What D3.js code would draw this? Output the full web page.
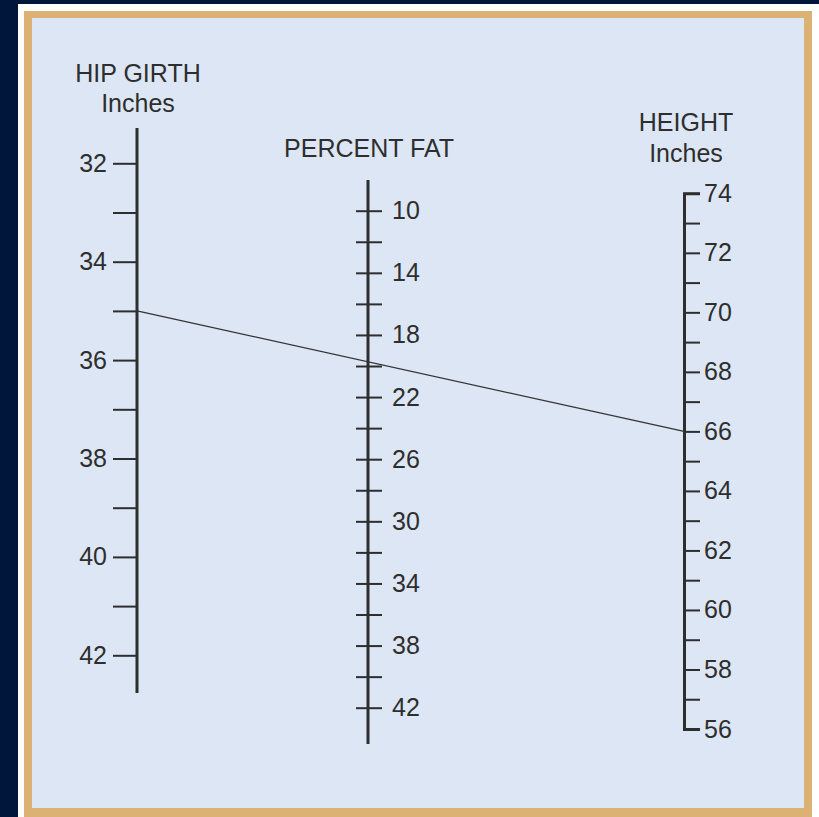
<!DOCTYPE html>
<html>
<head>
<meta charset="utf-8">
<script src="https://cdn.jsdelivr.net/npm/d3@7"></script>
<style>
  body { margin: 0; background: #00163b; }
  text { font-family: "Liberation Sans", Arial, sans-serif; }
</style>
</head>
<body>
<div id="container"></div>
<script>
// nomogram values
const hipTicks = [32, 33, 34, 35, 36, 37, 38, 39, 40, 41, 42];
const hipLabels = [32, 34, 36, 38, 40, 42];
const fatTicks = [10, 12, 14, 16, 18, 20, 22, 24, 26, 28, 30, 32, 34, 36, 38, 40, 42];
const fatLabels = [10, 14, 18, 22, 26, 30, 34, 38, 42];
const heightTicks = [56, 57, 58, 59, 60, 61, 62, 63, 64, 65, 66, 67, 68, 69, 70, 71, 72, 73, 74];
const heightLabels = [56, 58, 60, 62, 64, 66, 68, 70, 72, 74];
const exampleHip = 35;
const exampleHeight = 66;

const width = 819, height = 817;
const ink = "#2e2e2e";

const svg = d3.select("#container").append("svg")
  .attr("width", width)
  .attr("height", height);

// frame: navy, white, tan, light blue
svg.append("rect").attr("width", width).attr("height", height).attr("fill", "#00163b");
svg.append("rect").attr("x", 18).attr("y", 4).attr("width", width - 18).attr("height", height - 4).attr("fill", "#ffffff");
svg.append("rect").attr("x", 24).attr("y", 11).attr("width", 812 - 24).attr("height", height - 11).attr("fill", "#dcb274");
svg.append("rect").attr("x", 32).attr("y", 18).attr("width", 804 - 32).attr("height", 808 - 18).attr("fill", "#dde6f4");

// scales
const hipX = 137, fatX = 368, heightX = 684;
const hip = d3.scaleLinear().domain([32, 42]).range([163.3, 655.3]);
const fat = d3.scaleLinear().domain([10, 42]).range([210.7, 707.7]);
const ht = d3.scaleLinear().domain([56, 74]).range([729, 193.3]);

function styleAxis(g, w) {
  g.selectAll("line").attr("stroke", ink).attr("stroke-width", 2);
  g.selectAll("text").attr("fill", ink).style("font-size", "25px");
  g.select(".domain").attr("stroke", ink).attr("stroke-width", w).attr("fill", "none");
}

// HIP GIRTH
svg.append("line")
  .attr("x1", hipX).attr("x2", hipX)
  .attr("y1", 128).attr("y2", 693)
  .attr("stroke", ink).attr("stroke-width", 3);

svg.append("g")
  .attr("transform", `translate(${hipX},0)`)
  .call(d3.axisLeft(hip)
    .tickValues(hipTicks)
    .tickSize(24)
    .tickPadding(6)
    .tickFormat(d => hipLabels.includes(d) ? d : ""))
  .call(g => g.select(".domain").remove())
  .call(g => styleAxis(g, 3));

// PERCENT FAT
svg.append("line")
  .attr("x1", fatX).attr("x2", fatX)
  .attr("y1", 180).attr("y2", 744)
  .attr("stroke", ink).attr("stroke-width", 3);

svg.append("g")
  .attr("transform", `translate(${fatX},0)`)
  .call(d3.axisRight(fat)
    .tickValues(fatTicks)
    .tickSize(14)
    .tickPadding(10)
    .tickFormat(d => fatLabels.includes(d) ? d : ""))
  .call(g => g.select(".domain").remove())
  .call(g => g.selectAll(".tick line").attr("x1", -12)) // ticks cross the line
  .call(g => styleAxis(g, 3));

// HEIGHT
svg.append("g")
  .attr("transform", `translate(${heightX},0)`)
  .call(d3.axisRight(ht)
    .tickValues(heightTicks)
    .tickSize(16)
    .tickSizeOuter(16)
    .tickPadding(4)
    .tickFormat(d => heightLabels.includes(d) ? d : ""))
  .call(g => styleAxis(g, 3));

// example reading line
svg.append("line")
  .attr("x1", hipX).attr("y1", hip(exampleHip))
  .attr("x2", heightX).attr("y2", ht(exampleHeight))
  .attr("stroke", "#333")
  .attr("stroke-width", 1.2);

// titles
const titles = [
  {x: 138, y: 82, t: "HIP GIRTH"},
  {x: 138, y: 112, t: "Inches"},
  {x: 369, y: 157, t: "PERCENT FAT"},
  {x: 686, y: 131, t: "HEIGHT"},
  {x: 686, y: 162, t: "Inches"}
];
svg.selectAll(".title")
  .data(titles)
  .enter()
  .append("text")
  .attr("class", "title")
  .attr("x", d => d.x)
  .attr("y", d => d.y)
  .attr("text-anchor", "middle")
  .style("font-size", "25px")
  .style("fill", ink)
  .text(d => d.t);
</script>
</body>
</html>
